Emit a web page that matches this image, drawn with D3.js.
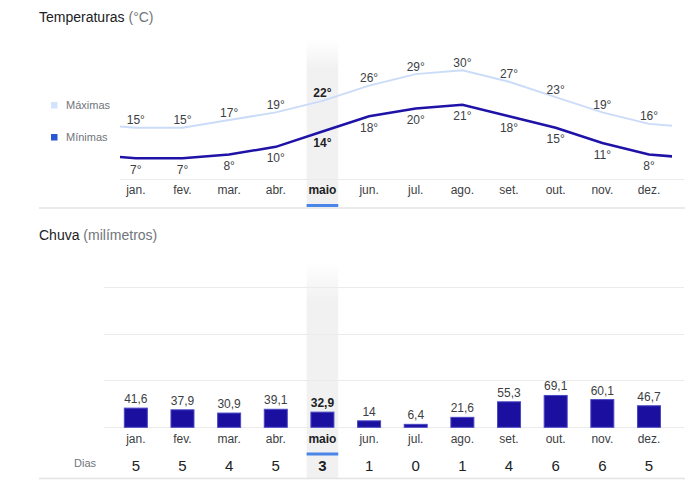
<!DOCTYPE html>
<html><head><meta charset="utf-8">
<script src="https://cdn.jsdelivr.net/npm/d3@7"></script>
<style>
html,body{margin:0;padding:0;background:#fff;}
svg{display:block;font-family:Arial,"Liberation Sans",Helvetica,sans-serif;}
</style></head><body>
<svg id="c" width="700" height="489"></svg>
<script>
const months = ["jan.","fev.","mar.","abr.","maio","jun.","jul.","ago.","set.","out.","nov.","dez."];
const maxTemp = [15,15,17,19,22,26,29,30,27,23,19,16];
const minTemp = [7,7,8,10,14,18,20,21,18,15,11,8];
const rain = [41.6,37.9,30.9,39.1,32.9,14,6.4,21.6,55.3,69.1,60.1,46.7];
const rainDays = [5,5,4,5,3,1,0,1,4,6,6,5];
const highlight = 4;

const svg = d3.select("#c");
const defs = svg.append("defs");
const grad = defs.append("linearGradient").attr("id","fade").attr("x1",0).attr("x2",0).attr("y1",0).attr("y2",1);
grad.append("stop").attr("offset",0).attr("stop-color","#f1f1f1").attr("stop-opacity",0);
grad.append("stop").attr("offset",0.18).attr("stop-color","#f1f1f1").attr("stop-opacity",1);
grad.append("stop").attr("offset",1).attr("stop-color","#f1f1f1").attr("stop-opacity",1);

const x = d3.scaleBand().domain(d3.range(12)).range([112.5, 672.3]);
const cx = i => x(i) + x.bandwidth()/2;
const hlW = 31.6;
const txtCol = "#3c4043", boldCol = "#202124";

// ---------- Temperature ----------
const yT = d3.scaleLinear().domain([15,30]).range([127.7,70.3]);

svg.append("rect").attr("x", cx(highlight)-hlW/2).attr("y",40).attr("width",hlW).attr("height",167).attr("fill","url(#fade)");

const t1 = svg.append("text").attr("x",39).attr("y",22).attr("font-size",14).attr("fill","#202124");
t1.append("tspan").text("Temperaturas");
t1.append("tspan").attr("fill","#70757a").text(" (°C)");

svg.append("rect").attr("x",51).attr("y",102).attr("width",6.5).attr("height",6.5).attr("fill","#d2e3fc");
svg.append("text").attr("x",66).attr("y",109).attr("font-size",11).attr("fill","#70757a").text("Máximas");
svg.append("rect").attr("x",51).attr("y",134).attr("width",6.5).attr("height",6.5).attr("fill","#2a56d4");
svg.append("text").attr("x",66).attr("y",141).attr("font-size",11).attr("fill","#70757a").text("Mínimas");

svg.append("line").attr("x1",120).attr("x2",684).attr("y1",179.5).attr("y2",179.5).attr("stroke","#ebebeb");

defs.append("clipPath").attr("id","tclip").append("rect").attr("x",120).attr("y",0).attr("width",552).attr("height",200);
function wrapPts(arr){
  const pts = arr.map((v,i)=>[cx(i), yT(v)]);
  const step = x.step();
  pts.unshift([cx(0)-step, yT(arr[11])]);
  pts.push([cx(11)+step, yT(arr[0])]);
  return pts;
}
const line = d3.line();
const g = svg.append("g").attr("clip-path","url(#tclip)");
g.append("path").attr("d", line(wrapPts(maxTemp))).attr("fill","none").attr("stroke","#cbdcf9").attr("stroke-width",2);
g.append("path").attr("d", line(wrapPts(minTemp))).attr("fill","none").attr("stroke","#1f12a6").attr("stroke-width",2.5);

svg.append("g").selectAll("text").data(maxTemp).join("text")
  .attr("x",(d,i)=>cx(i)).attr("y",d=>yT(d)-3.5).attr("text-anchor","middle").attr("font-size",12)
  .attr("fill",(d,i)=>i===highlight?boldCol:txtCol).attr("font-weight",(d,i)=>i===highlight?"bold":"normal")
  .text(d=>d+"°");
svg.append("g").selectAll("text").data(minTemp).join("text")
  .attr("x",(d,i)=>cx(i)).attr("y",d=>yT(d)+15.5).attr("text-anchor","middle").attr("font-size",12)
  .attr("fill",(d,i)=>i===highlight?boldCol:txtCol).attr("font-weight",(d,i)=>i===highlight?"bold":"normal")
  .text(d=>d+"°");

svg.append("g").selectAll("text").data(months).join("text")
  .attr("x",(d,i)=>cx(i)).attr("y",194).attr("text-anchor","middle").attr("font-size",12)
  .attr("fill",(d,i)=>i===highlight?boldCol:txtCol).attr("font-weight",(d,i)=>i===highlight?"bold":"normal")
  .text(d=>d);
svg.append("rect").attr("x",cx(highlight)-hlW/2).attr("y",204).attr("width",hlW).attr("height",3).attr("fill","#4a86e8");
svg.append("line").attr("x1",39).attr("x2",685).attr("y1",208).attr("y2",208).attr("stroke","#e3e3e3").attr("stroke-width",1.5);

// ---------- Rain ----------
const rainMax = 305;
const yR = d3.scaleLinear().domain([0,rainMax]).range([427.3,286.7]);

svg.append("rect").attr("x", cx(highlight)-hlW/2).attr("y",262).attr("width",hlW).attr("height",216).attr("fill","url(#fade)");

const t2 = svg.append("text").attr("x",39).attr("y",240).attr("font-size",14).attr("fill","#202124");
t2.append("tspan").text("Chuva");
t2.append("tspan").attr("fill","#70757a").text(" (milímetros)");

const grid = [0,1,2,3].map(k=>k*rainMax/3);
svg.append("g").selectAll("line").data(grid).join("line")
  .attr("x1",104).attr("x2",684).attr("y1",d=>Math.round(yR(d))+0.5).attr("y2",d=>Math.round(yR(d))+0.5)
  .attr("stroke","#ebebeb");

const bw = 24;
svg.append("g").selectAll("rect").data(rain).join("rect")
  .attr("x",(d,i)=>cx(i)-bw/2+0.5).attr("y",d=>yR(d)).attr("width",bw-1).attr("height",d=>yR(0)-yR(d))
  .attr("fill","#1a0f9f").attr("stroke","#4a47c4").attr("stroke-width",1);

svg.append("g").selectAll("text").data(rain).join("text")
  .attr("x",(d,i)=>cx(i)).attr("y",d=>yR(d)-5).attr("text-anchor","middle").attr("font-size",12)
  .attr("fill",(d,i)=>i===highlight?boldCol:txtCol).attr("font-weight",(d,i)=>i===highlight?"bold":"normal")
  .text(d=>String(d).replace(".",","));

svg.append("g").selectAll("text").data(months).join("text")
  .attr("x",(d,i)=>cx(i)).attr("y",442.5).attr("text-anchor","middle").attr("font-size",12)
  .attr("fill",(d,i)=>i===highlight?boldCol:txtCol).attr("font-weight",(d,i)=>i===highlight?"bold":"normal")
  .text(d=>d);
svg.append("rect").attr("x",cx(highlight)-hlW/2).attr("y",452.5).attr("width",hlW).attr("height",3).attr("fill","#4a86e8");

svg.append("text").attr("x",74).attr("y",467).attr("font-size",11).attr("fill","#70757a").text("Dias");
svg.append("g").selectAll("text").data(rainDays).join("text")
  .attr("x",(d,i)=>cx(i)).attr("y",470.5).attr("text-anchor","middle").attr("font-size",15)
  .attr("fill","#202124").attr("font-weight",(d,i)=>i===highlight?"bold":"normal")
  .text(d=>d);
svg.append("line").attr("x1",39).attr("x2",685).attr("y1",478.5).attr("y2",478.5).attr("stroke","#e3e3e3").attr("stroke-width",1.5);
</script>
</body></html>
